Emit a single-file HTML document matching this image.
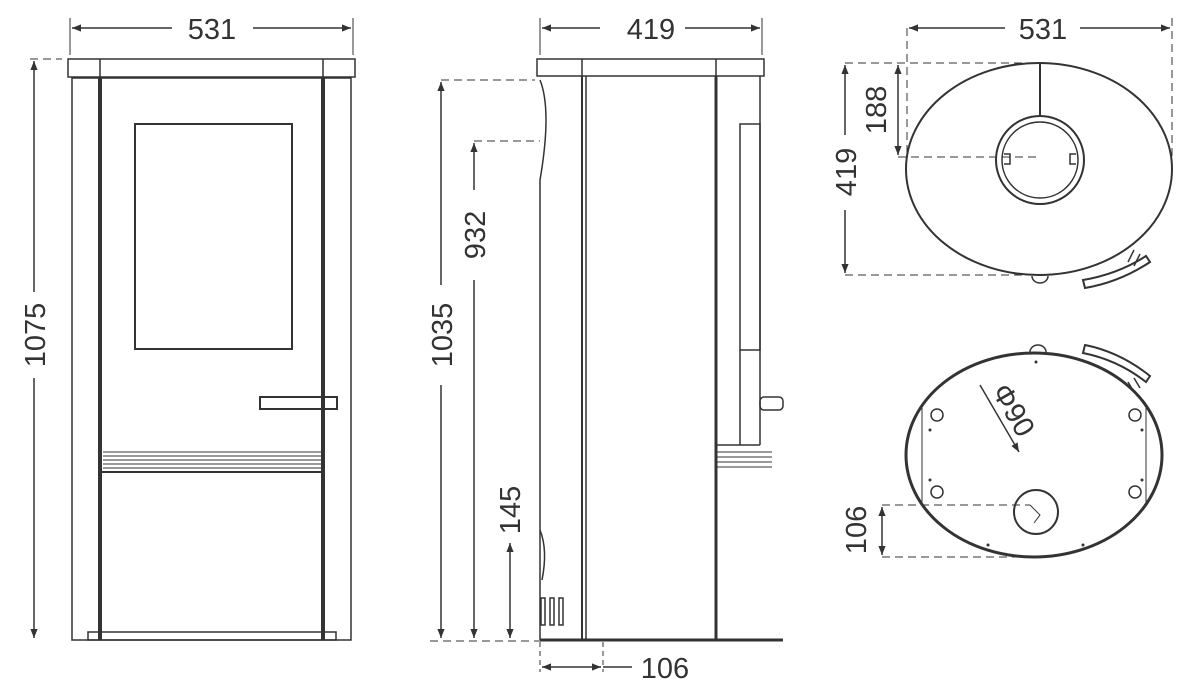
<!DOCTYPE html>
<html><head><meta charset="utf-8"><style>
html,body{margin:0;padding:0;background:#fff}
svg{display:block}
text{font-family:"Liberation Sans",sans-serif;font-size:29px;fill:#333}
</style></head><body>
<svg width="1194" height="699" viewBox="0 0 1194 699">
<defs>
<marker id="a" viewBox="0 0 10 10" refX="10" refY="5" markerWidth="9" markerHeight="6" orient="auto-start-reverse"><path d="M0,1 L10,5 L0,9 z" fill="#333"/></marker>
</defs>
<g stroke="#333" fill="none" stroke-width="1.5">
<!-- FRONT VIEW -->
<rect x="68" y="59" width="287" height="18"/>
<line x1="100" y1="59" x2="100" y2="77"/><line x1="323" y1="59" x2="323" y2="77"/>
<rect x="72" y="78" width="279" height="562"/>
<line x1="100" y1="78" x2="100" y2="640" stroke-width="4"/>
<line x1="323" y1="78" x2="323" y2="640" stroke-width="4"/>
<rect x="135" y="124" width="157" height="225" stroke-width="2"/>
<rect x="260" y="397" width="77" height="12" stroke-width="2"/>
<g stroke-width="1">
<line x1="103" y1="452" x2="321" y2="452"/><line x1="103" y1="456" x2="321" y2="456"/>
<line x1="103" y1="460" x2="321" y2="460"/><line x1="103" y1="464" x2="321" y2="464"/>
<line x1="103" y1="468" x2="321" y2="468"/>
</g>
<line x1="100" y1="472" x2="323" y2="472" stroke-width="2"/>
<rect x="88" y="632" width="248" height="8"/>
<!-- dims front -->
<line x1="70" y1="18" x2="70" y2="55" stroke-width="1"/><line x1="353" y1="18" x2="353" y2="55" stroke-width="1"/>
<line x1="72" y1="28" x2="172" y2="28" marker-start="url(#a)"/><line x1="253" y1="28" x2="351" y2="28" marker-end="url(#a)"/>
<line x1="30" y1="59" x2="62" y2="59" stroke-dasharray="8,5" stroke-width="1"/>
<line x1="34" y1="61" x2="34" y2="292" marker-start="url(#a)"/><line x1="34" y1="378" x2="34" y2="638" marker-end="url(#a)"/>
<!-- SIDE VIEW -->
<rect x="537" y="59" width="227" height="17"/>
<line x1="582" y1="59" x2="582" y2="76"/><line x1="716" y1="59" x2="716" y2="76"/>
<path d="M540 80 Q552 110 540 180 L540 640"/>
<line x1="582" y1="76" x2="582" y2="640" stroke-width="2"/><line x1="586" y1="76" x2="586" y2="640"/>
<line x1="716" y1="76" x2="716" y2="640" stroke-width="3"/>
<line x1="760" y1="76" x2="760" y2="350"/>
<rect x="740" y="124" width="20" height="226"/>
<line x1="740" y1="350" x2="740" y2="445"/><line x1="760" y1="350" x2="760" y2="445"/>
<line x1="716" y1="445" x2="760" y2="445"/>
<rect x="760" y="397" width="23" height="13" rx="4"/>
<g stroke-width="1"><line x1="716" y1="452" x2="772" y2="452"/><line x1="716" y1="457" x2="772" y2="457"/><line x1="716" y1="462" x2="772" y2="462"/><line x1="716" y1="467" x2="772" y2="467"/></g>
<path d="M540 530 Q548 550 542 580"/>
<rect x="541" y="598" width="4" height="27"/><rect x="550" y="598" width="4" height="27"/><rect x="559" y="598" width="4" height="27"/>
<line x1="540" y1="640" x2="783" y2="640" stroke-width="3"/>
<!-- dims side -->
<line x1="540" y1="18" x2="540" y2="55" stroke-width="1"/><line x1="762" y1="18" x2="762" y2="55" stroke-width="1"/>
<line x1="542" y1="28" x2="600" y2="28" marker-start="url(#a)"/><line x1="685" y1="28" x2="760" y2="28" marker-end="url(#a)"/>
<line x1="441" y1="80" x2="535" y2="80" stroke-dasharray="8,5" stroke-width="1"/>
<line x1="474" y1="141" x2="540" y2="141" stroke-dasharray="8,5" stroke-width="1"/>
<line x1="430" y1="641" x2="540" y2="641" stroke-dasharray="8,5" stroke-width="1"/>
<line x1="441" y1="82" x2="441" y2="285" marker-start="url(#a)"/><line x1="441" y1="385" x2="441" y2="638" marker-end="url(#a)"/>
<line x1="474" y1="143" x2="474" y2="190" marker-start="url(#a)"/><line x1="474" y1="280" x2="474" y2="638" marker-end="url(#a)"/>
<line x1="510" y1="543" x2="510" y2="638" marker-start="url(#a)" marker-end="url(#a)"/>
<line x1="540" y1="642" x2="540" y2="672" stroke-dasharray="5,4" stroke-width="1"/><line x1="603" y1="642" x2="603" y2="672" stroke-dasharray="5,4" stroke-width="1"/>
<line x1="542" y1="667" x2="601" y2="667" marker-start="url(#a)" marker-end="url(#a)"/>
<line x1="603" y1="667" x2="632" y2="667"/>
<!-- TOP VIEW -->
<ellipse cx="1039" cy="169" rx="133" ry="106" stroke-width="2"/>
<circle cx="1040" cy="160" r="44" stroke-width="2"/><circle cx="1040" cy="160" r="38"/>
<line x1="1040" y1="63" x2="1040" y2="116" stroke-width="2"/>
<path d="M1004 154 h6 v10 h-6 M1076 154 h-6 v10 h6"/>
<path d="M1085 288 Q1120 282 1150 262 L1146 256 Q1118 274 1083 280 z" stroke-width="2"/>
<path d="M1128 262 l6 -12 M1134 266 l6 -12"/>
<path d="M1032 276 a8 7 0 0 0 16 0"/>
<!-- top dims -->
<line x1="907" y1="28" x2="907" y2="160" stroke-dasharray="8,5" stroke-width="1"/>
<line x1="1172" y1="18" x2="1172" y2="170" stroke-dasharray="8,5" stroke-width="1"/>
<line x1="909" y1="28" x2="1005" y2="28" marker-start="url(#a)"/><line x1="1080" y1="28" x2="1170" y2="28" marker-end="url(#a)"/>
<line x1="845" y1="63" x2="1040" y2="63" stroke-dasharray="8,5" stroke-width="1"/>
<line x1="845" y1="275" x2="1040" y2="275" stroke-dasharray="8,5" stroke-width="1"/>
<line x1="898" y1="157" x2="1040" y2="157" stroke-dasharray="8,5" stroke-width="1"/>
<line x1="845" y1="65" x2="845" y2="135" marker-start="url(#a)"/><line x1="845" y1="210" x2="845" y2="273" marker-end="url(#a)"/>
<line x1="898" y1="65" x2="898" y2="155" marker-start="url(#a)" marker-end="url(#a)"/>
<!-- BOTTOM VIEW -->
<ellipse cx="1034" cy="455" rx="128" ry="102" stroke-width="3"/>
<path d="M922 408 V502 M1146 408 V502" stroke-width="1"/>
<circle cx="937" cy="415" r="6"/><circle cx="1135" cy="415" r="6"/>
<circle cx="937" cy="492" r="6"/><circle cx="1135" cy="492" r="6"/>
<circle cx="1036" cy="512" r="22" stroke-width="2"/>
<path d="M1030 505 l10 10 -6 8" stroke-width="1"/>
<path d="M1030 352 a8 7 0 0 1 16 0"/>
<path d="M1085 345 Q1120 352 1150 376 L1146 382 Q1118 360 1083 353 z" stroke-width="2"/>
<path d="M1128 382 l6 10 M1134 378 l6 10"/>
<line x1="980" y1="385" x2="1019" y2="452" marker-end="url(#a)"/>
<line x1="882" y1="505" x2="1030" y2="505" stroke-dasharray="8,5" stroke-width="1"/>
<line x1="882" y1="557" x2="1030" y2="557" stroke-dasharray="8,5" stroke-width="1"/>
<line x1="882" y1="507" x2="882" y2="555" marker-start="url(#a)" marker-end="url(#a)"/>
</g>
<g fill="#333">
<circle cx="1036" cy="362" r="1.5"/><circle cx="930" cy="430" r="1.5"/><circle cx="1142" cy="430" r="1.5"/>
<circle cx="930" cy="480" r="1.5"/><circle cx="1142" cy="480" r="1.5"/><circle cx="988" cy="545" r="1.5"/><circle cx="1083" cy="545" r="1.5"/>
</g>
<text x="212" y="39" text-anchor="middle">531</text>
<text x="651" y="39" text-anchor="middle">419</text>
<text x="1043" y="39" text-anchor="middle">531</text>
<text x="665" y="678" text-anchor="middle">106</text>
<text transform="translate(45,335) rotate(-90)" text-anchor="middle">1075</text>
<text transform="translate(452,335) rotate(-90)" text-anchor="middle">1035</text>
<text transform="translate(485,235) rotate(-90)" text-anchor="middle">932</text>
<text transform="translate(520,510) rotate(-90)" text-anchor="middle">145</text>
<text transform="translate(856,172) rotate(-90)" text-anchor="middle">419</text>
<text transform="translate(886,110) rotate(-90)" text-anchor="middle">188</text>
<text transform="translate(866,530) rotate(-90)" text-anchor="middle">106</text>
<text transform="translate(1005,415) rotate(60)" text-anchor="middle">Φ90</text>
</svg>
</body></html>
